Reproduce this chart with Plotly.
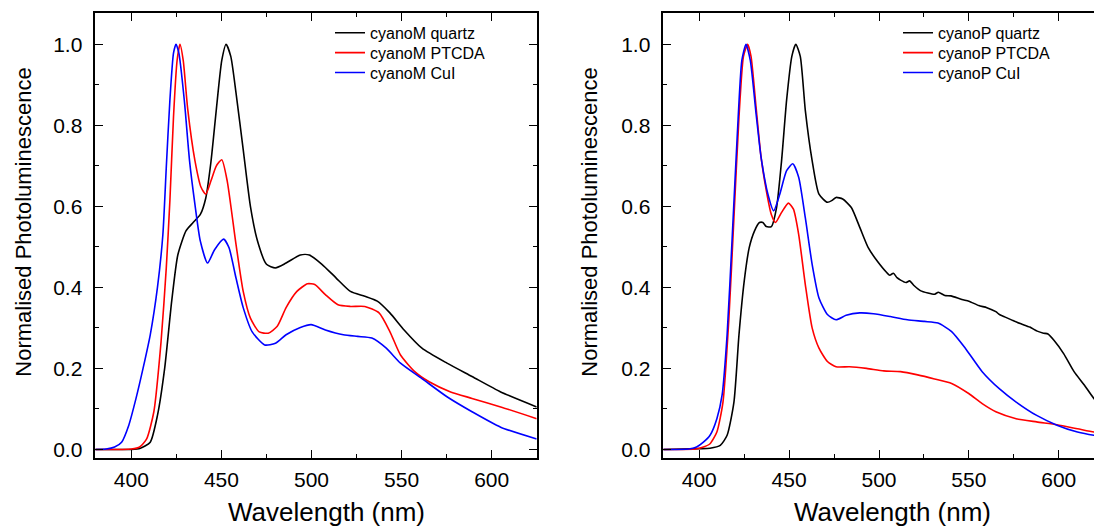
import plotly.graph_objects as go

W, H = 1094, 528

# ---------------- data: left panel (cyanoM) ----------------
m_quartz_x = [380, 395, 400, 405, 410.5, 414.5, 418.5, 422.4, 425.8, 430.4, 434.3, 438.3, 441.3, 444.2,
              447.2, 450.2, 452.6, 455.2, 458.1, 462.1, 466.1, 470, 475, 480, 485.9, 493.8, 498.8,
              505.8, 513.7, 521.6, 529.6, 536.5, 543.5, 551.4, 561.3, 575.2, 589.1, 605, 625]
m_quartz_y = [0.0, 0.0, 0.0, 0.003, 0.018, 0.084, 0.2, 0.366, 0.48, 0.54, 0.56, 0.58, 0.62, 0.71,
              0.84, 0.96, 1.0, 0.97, 0.88, 0.74, 0.6, 0.515, 0.457, 0.448, 0.46, 0.48, 0.48,
              0.457, 0.423, 0.39, 0.378, 0.366, 0.337, 0.295, 0.25, 0.213, 0.18, 0.142, 0.105]

m_ptcda_x = [380, 395, 400, 404.6, 408.5, 412.5, 416.5, 419.4, 421.4, 423.4, 425.4, 427, 428.8, 431.3,
             435.3, 438.7, 441.3, 444.2, 447.2, 450.2, 453.2, 458.1, 462.1, 466.1, 471, 476, 481,
             485.9, 491.9, 497.8, 501.8, 507.7, 514.7, 521.6, 529.6, 537.5, 543.5, 549.4, 557.3,
             565.3, 577.2, 589.1, 605, 625]
m_ptcda_y = [0.0, 0.0, 0.001, 0.006, 0.026, 0.093, 0.266, 0.448, 0.614, 0.82, 0.96, 1.0, 0.96, 0.84,
             0.713, 0.647, 0.63, 0.663, 0.70, 0.715, 0.663, 0.506, 0.39, 0.324, 0.29, 0.287, 0.304,
             0.35, 0.39, 0.409, 0.407, 0.382, 0.357, 0.353, 0.353, 0.337, 0.291, 0.233, 0.192,
             0.167, 0.142, 0.126, 0.105, 0.076]

m_cui_x = [380, 386, 390.7, 394.6, 398.6, 402.6, 406.5, 410.5, 414.5, 417.5, 419.4, 421.4, 423.4,
           424.8, 426.4, 429.4, 432.3, 435.3, 438.3, 442.3, 446.2, 451.2, 454.2, 458.1, 462.1,
           467.1, 474, 480, 485.9, 493.8, 499.8, 507.7, 517.7, 525.6, 533.5, 541.5, 549.4, 561.3,
           575.2, 589.1, 605, 625]
m_cui_y = [0.0, 0.001, 0.006, 0.018, 0.06, 0.126, 0.2, 0.283, 0.4, 0.53, 0.696, 0.862, 0.978,
           1.0, 0.978, 0.862, 0.713, 0.605, 0.514, 0.46, 0.493, 0.519, 0.498, 0.423, 0.35,
           0.29, 0.258, 0.262, 0.283, 0.301, 0.308, 0.295, 0.283, 0.279, 0.275, 0.25, 0.213, 0.175,
           0.13, 0.093, 0.055, 0.026]

# ---------------- data: right panel (cyanoP) ----------------
p_quartz_x = [380, 400, 406, 411.7, 415.5, 419.3, 422.1, 425, 427.8, 430.7, 433.5, 435.4, 437.3,
              440.1, 443, 445.8, 448.6, 451.5, 453.7, 456.2, 459, 462.8, 466.6, 471.3, 474, 476.1,
              479.8, 484.6, 489.3, 494, 499, 504.4, 506, 508, 510, 512, 515, 517, 519.6, 523, 527.2,
              531, 533, 536.6, 540, 546.1, 550, 555.5, 560, 565, 567, 569, 574.5, 579, 583.9, 588,
              591.5, 594, 597.2, 602.8, 608.5, 614.2, 619.5, 625]
p_quartz_y = [0.0, 0.002, 0.003, 0.01, 0.035, 0.117, 0.283, 0.415, 0.498, 0.539, 0.56, 0.56, 0.55,
              0.55, 0.597, 0.713, 0.862, 0.97, 1.0, 0.97, 0.837, 0.713, 0.63, 0.61, 0.615, 0.622,
              0.618, 0.597, 0.548, 0.498, 0.465, 0.436, 0.43, 0.435, 0.424, 0.418, 0.412, 0.416,
              0.404, 0.392, 0.386, 0.383, 0.388, 0.38, 0.379, 0.37, 0.366, 0.355, 0.35, 0.34, 0.333,
              0.329, 0.318, 0.31, 0.302, 0.292, 0.287, 0.285, 0.27, 0.236, 0.192, 0.159, 0.126, 0.1]

p_ptcda_x = [380, 398, 402.3, 406, 409.8, 413.2, 416.5, 419.3, 422.1, 424.6, 426.9, 428.8, 431.6,
             434.4, 437.3, 440.1, 442.4, 445.8, 449.6, 452.4, 455.3, 459, 462.8, 466.6, 471.3,
             476.1, 483.6, 493.1, 502.6, 512, 521.5, 530.9, 540.4, 549.9, 557.4, 565, 576.3, 587.7,
             599, 610.4, 619.5, 625]
p_ptcda_y = [0.0, 0.001, 0.006, 0.014, 0.043, 0.117, 0.324, 0.572, 0.82, 0.97, 1.0, 0.97, 0.845,
             0.721, 0.639, 0.58, 0.56, 0.585, 0.608, 0.593, 0.531, 0.407, 0.3, 0.25, 0.217,
             0.204, 0.204, 0.2, 0.194, 0.192, 0.184, 0.174, 0.163, 0.138, 0.113, 0.093, 0.076,
             0.068, 0.061, 0.051, 0.043, 0.04]

p_cui_x = [380, 394, 398.5, 402.3, 406, 409.8, 412.7, 415.5, 418.4, 421.2, 423.7, 426, 428.4, 431.6,
           434.4, 438.2, 441.4, 444.8, 448.6, 452, 455.3, 459, 462.8, 466.6, 471.3, 476.1, 481.7,
           489.3, 496.9, 506.3, 515.8, 525.3, 532.8, 540.4, 548, 557.4, 566.9, 576.3, 587.7,
           599, 610.4, 619.5, 625]
p_cui_y = [0.0, 0.001, 0.006, 0.018, 0.035, 0.076, 0.134, 0.283, 0.53, 0.78, 0.96, 1.0, 0.96, 0.829,
           0.721, 0.63, 0.589, 0.63, 0.688, 0.705, 0.672, 0.572, 0.457, 0.374, 0.333, 0.32, 0.331,
           0.337, 0.335, 0.328, 0.32, 0.316, 0.312, 0.291, 0.25, 0.192, 0.15, 0.117, 0.084,
           0.06, 0.043, 0.035, 0.032]

x_ticks = [400, 450, 500, 550, 600]
y_ticks = [0.0, 0.2, 0.4, 0.6, 0.8, 1.0]
y_tick_text = ["0.0", "0.2", "0.4", "0.6", "0.8", "1.0"]

FONT = "Liberation Sans, Arial, sans-serif"
BLACK, RED, BLUE = "#000000", "#ff0000", "#0000ff"
LW = 1.6


def px(x):
    return x / W


def py(y):
    return 1 - y / H


fig = go.Figure()

panels = [
    ("x", "y", 330, [
        ("cyanoM quartz", m_quartz_x, m_quartz_y, BLACK),
        ("cyanoM PTCDA", m_ptcda_x, m_ptcda_y, RED),
        ("cyanoM CuI", m_cui_x, m_cui_y, BLUE),
    ]),
    ("x2", "y2", 898, [
        ("cyanoP quartz", p_quartz_x, p_quartz_y, BLACK),
        ("cyanoP PTCDA", p_ptcda_x, p_ptcda_y, RED),
        ("cyanoP CuI", p_cui_x, p_cui_y, BLUE),
    ]),
]

row_y = [33, 53, 73]
legend_layouts = {}
k = 0
for xa, ya, lx, series in panels:
    for i, (name, xs, ys, col) in enumerate(series):
        k += 1
        lname = "legend" if k == 1 else "legend%d" % k
        fig.add_trace(go.Scatter(
            x=xs, y=ys, name=name, mode="lines", xaxis=xa, yaxis=ya, legend=lname,
            line=dict(color=col, width=LW, shape="spline", smoothing=0.6),
        ))
        legend_layouts[lname] = dict(
            x=px(lx), y=py(row_y[i]), xanchor="left", yanchor="middle",
            bgcolor="rgba(0,0,0,0)", borderwidth=0,
            font=dict(family=FONT, size=16, color="#000"), itemwidth=30,
        )

ydom = [py(460.7), py(13.3)]
common_x = dict(
    tickvals=x_ticks, ticks="inside", ticklen=8, tickwidth=1.3, tickcolor="#000",
    showline=True, linecolor="#000", linewidth=1.5, mirror="allticks",
    showgrid=False, zeroline=False,
    tickfont=dict(family=FONT, size=21, color="#000"),
    minor=dict(ticks="inside", ticklen=4, tickwidth=1.3, tickcolor="#000", dtick=25, tick0=375, showgrid=False),
    ticklabelstandoff=2,
)
common_y = dict(
    tickvals=y_ticks, ticktext=y_tick_text, ticks="inside", ticklen=8, tickwidth=1.3, tickcolor="#000",
    showline=True, linecolor="#000", linewidth=1.5,
    showgrid=False, zeroline=False, range=[-0.0213, 1.0766],
    tickfont=dict(family=FONT, size=21, color="#000"),
    minor=dict(ticks="inside", ticklen=4, tickwidth=1.3, tickcolor="#000", dtick=0.1, tick0=0, showgrid=False),
    ticklabelstandoff=7,
    domain=ydom,
)

fig.update_layout(
    width=W, height=H,
    margin=dict(l=0, r=0, t=0, b=0),
    paper_bgcolor="white", plot_bgcolor="white",
    font=dict(family=FONT, color="#000"),
    xaxis=dict(common_x, domain=[px(95.3), px(536.7)], range=[380, 625], anchor="y"),
    yaxis=dict(common_y, anchor="x", mirror="allticks"),
    xaxis2=dict(common_x, domain=[px(663.3), 1.0], range=[380, 619.6], anchor="y2"),
    yaxis2=dict(common_y, anchor="x2", mirror=False),
    showlegend=True,
    **legend_layouts,
)

# axis titles as annotations for precise placement
ann_font_x = dict(family=FONT, size=26, color="#000")
ann_font_y = dict(family=FONT, size=22, color="#000")
fig.add_annotation(text="Wavelength (nm)", x=px(326), y=py(515), xref="paper", yref="paper",
                   showarrow=False, font=ann_font_x, xanchor="center", yanchor="middle")
fig.add_annotation(text="Wavelength (nm)", x=px(892.5), y=py(515), xref="paper", yref="paper",
                   showarrow=False, font=ann_font_x, xanchor="center", yanchor="middle")
fig.add_annotation(text="Normalised Photoluminescence", x=px(24), y=py(224), xref="paper", yref="paper",
                   showarrow=False, font=ann_font_y, textangle=-90, xanchor="center", yanchor="middle")
fig.add_annotation(text="Normalised Photoluminescence", x=px(590), y=py(224), xref="paper", yref="paper",
                   showarrow=False, font=ann_font_y, textangle=-90, xanchor="center", yanchor="middle")

fig.write_html(
    "out.html",
    config={"displayModeBar": False},
    post_script="document.body.style.margin='0px';document.body.style.overflow='hidden';",
)
